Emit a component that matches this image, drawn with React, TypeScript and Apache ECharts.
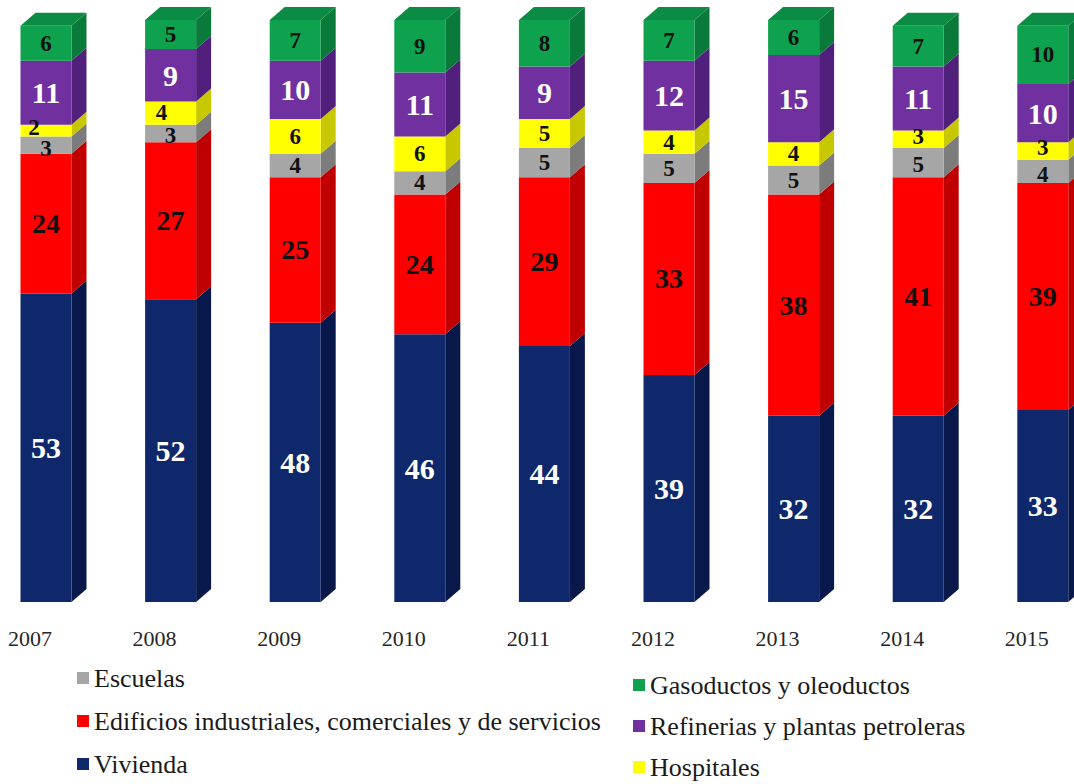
import React, { useEffect, useRef } from "react";
import * as echarts from "echarts";

const years = ["2007", "2008", "2009", "2010", "2011", "2012", "2013", "2014", "2015"];
const vivienda = [53, 52, 48, 46, 44, 39, 32, 32, 33];
const edificios = [24, 27, 25, 24, 29, 33, 38, 41, 39];
const escuelas = [3, 3, 4, 4, 5, 5, 5, 5, 4];
const hospitales = [2, 4, 6, 6, 5, 4, 4, 3, 3];
const refinerias = [11, 9, 10, 11, 9, 12, 15, 11, 10];
const gasoductos = [6, 5, 7, 9, 8, 7, 6, 7, 10];

const names = [
  "Vivienda",
  "Edificios industriales, comerciales y de servicios",
  "Escuelas",
  "Hospitales",
  "Refinerias y plantas petroleras",
  "Gasoductos y oleoductos",
];
const layers = [vivienda, edificios, escuelas, hospitales, refinerias, gasoductos];
const frontColors = ["#0e286b", "#ff0000", "#a6a6a6", "#ffff00", "#7030a0", "#0ea24e"];
const sideColors = ["#08184a", "#c00000", "#7c7c7c", "#c8c800", "#50207c", "#0a7a3a"];
const topColor = "#0b8c44";
const labelColors = ["#ffffff", "#111111", "#111111", "#111111", "#ffffff", "#111111"];
const labelSizes = [30, 28, 23, 23, 30, 23];

// label nudges for very thin segments: [layer index, year index, dx, dy]
const labelNudges: number[][] = [
  [3, 0, -12, -3],
  [2, 0, 0, 3],
  [3, 1, -9, -1],
  [2, 1, 0, 2],
  [3, 7, 0, -3],
  [2, 7, 0, 2],
  [3, 8, 0, -3],
  [2, 8, 0, 3],
];

const FONT = "Liberation Serif, Times New Roman, serif";
const BAR_W = 51;
const DX = 15;
const DY = 13;

export default function App() {
  const ref = useRef<HTMLDivElement>(null);
  useEffect(() => {
    document.body.style.margin = "0";
    document.body.style.overflow = "hidden";
    const chart = echarts.init(ref.current!, null, { renderer: "svg" });

    const faceData: number[][] = [];
    years.forEach((_, i) => {
      let base = 0;
      layers.forEach((arr, k) => {
        faceData.push([i, base, base + arr[i], k]);
        base += arr[i];
      });
    });

    const barSeries = layers.map((arr, k) => ({
      type: "bar",
      name: names[k],
      stack: "total",
      data: arr.map((v, i) => {
        const n = labelNudges.find((q) => q[0] === k && q[1] === i);
        return n ? { value: v, label: { offset: [n[2], n[3]] } } : v;
      }),
      barWidth: BAR_W,
      itemStyle: { color: frontColors[k] },
      label: {
        show: true,
        position: "inside",
        color: labelColors[k],
        fontSize: labelSizes[k],
        fontWeight: "bold",
        fontFamily: FONT,
        lineHeight: Math.round(labelSizes[k] * 0.8),
      },
      z: 3,
    }));

    const legendText = { fontSize: 26, fontFamily: FONT, color: "#1a1a1a", lineHeight: 26 };

    chart.setOption({
      animation: false,
      textStyle: { fontFamily: FONT },
      grid: {
        left: -16.3,
        right: -31.1,
        top: 20,
        bottom: 182,
        outerBoundsMode: "none",
      },
      xAxis: {
        type: "category",
        data: years,
        axisLine: { show: false },
        axisTick: { show: false },
        axisLabel: {
          color: "#262626",
          fontSize: 22,
          fontFamily: FONT,
          margin: 25,
          padding: [0, 32, 0, 0],
        },
      },
      yAxis: {
        type: "value",
        min: 0,
        max: 100,
        show: false,
        splitLine: { show: false },
      },
      legend: [
        {
          orient: "vertical",
          left: 77,
          top: 665,
          padding: 0,
          itemWidth: 12,
          itemHeight: 12,
          itemGap: 17,
          icon: "rect",
          data: [names[2], names[1], names[0]],
          textStyle: legendText,
        },
        {
          orient: "vertical",
          left: 633,
          top: 672,
          padding: 0,
          itemWidth: 12,
          itemHeight: 12,
          itemGap: 15,
          icon: "rect",
          data: [names[5], names[4], names[3]],
          textStyle: legendText,
        },
      ],
      series: [
        ...barSeries,
        {
          type: "custom",
          name: "faces3d",
          silent: true,
          z: 2,
          data: faceData,
          renderItem: (params: any, api: any) => {
            const i = api.value(0);
            const b = api.value(1);
            const t = api.value(2);
            const k = api.value(3);
            const p0 = api.coord([i, b]);
            const p1 = api.coord([i, t]);
            const xl = p0[0] - BAR_W / 2;
            const xr = p0[0] + BAR_W / 2;
            const y0 = p0[1];
            const y1 = p1[1];
            const children: any[] = [
              {
                type: "polygon",
                shape: {
                  points: [
                    [xr, y0],
                    [xr + DX, y0 - DY],
                    [xr + DX, y1 - DY],
                    [xr, y1],
                  ],
                },
                style: { fill: sideColors[k] },
              },
            ];
            if (k === layers.length - 1) {
              children.push({
                type: "polygon",
                shape: {
                  points: [
                    [xl, y1],
                    [xl + DX, y1 - DY],
                    [xr + DX, y1 - DY],
                    [xr, y1],
                  ],
                },
                style: { fill: topColor },
              });
            }
            return { type: "group", children };
          },
        },
      ],
    });
    return () => chart.dispose();
  }, []);
  return <div ref={ref} style={{ width: 1074, height: 784 }} />;
}
